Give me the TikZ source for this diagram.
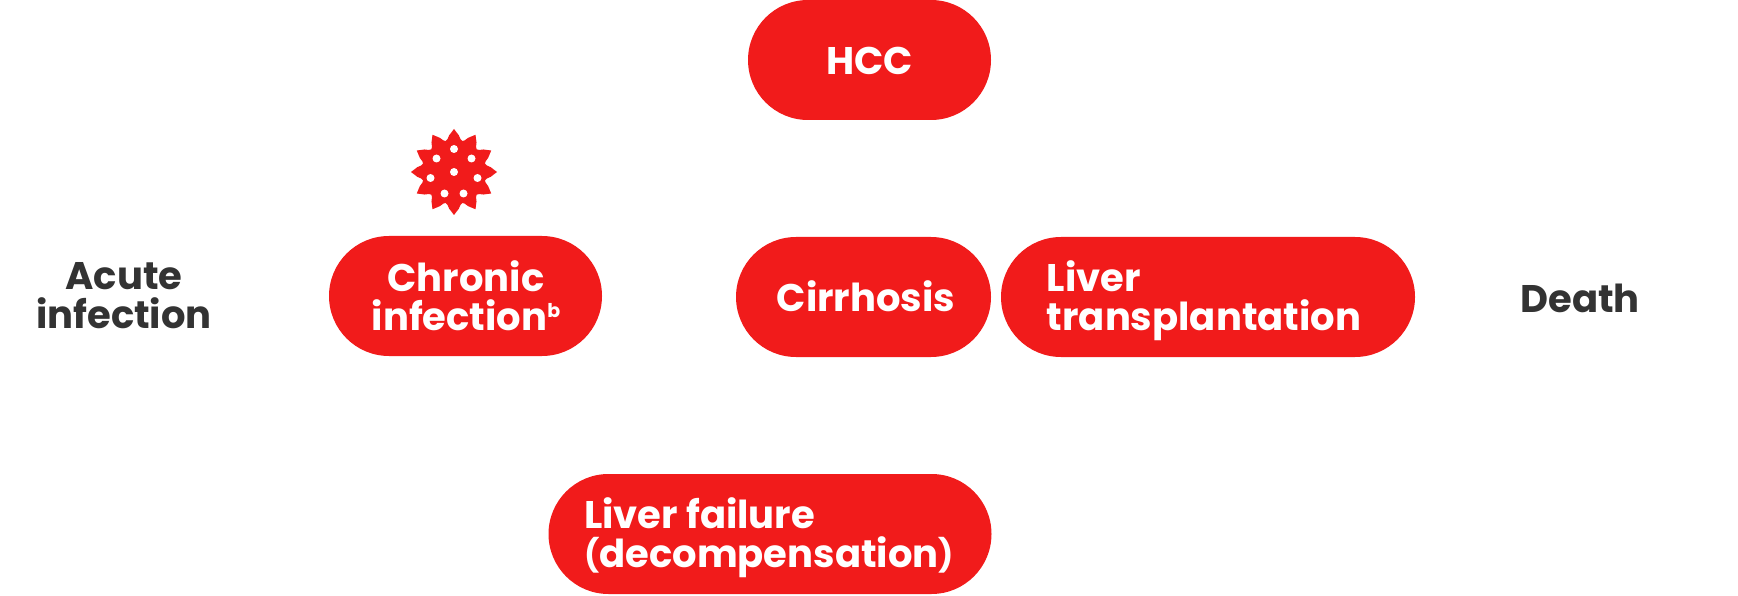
\documentclass[tikz,border=0pt]{standalone}
\usepackage{fontspec}
\setmainfont{Poppins}[BoldFont={Poppins Bold},UprightFont={Poppins SemiBold}]
\usetikzlibrary{shapes.misc}
\definecolor{pillred}{HTML}{F11B1B}
\definecolor{darktext}{HTML}{333333}
\newcommand\smallparen[1]{\raisebox{1.5pt}{\fontsize{32}{32}\selectfont #1}}
\newcommand\supb{\raisebox{13pt}{\fontsize{19}{19}\selectfont b}}
\tikzset{x=1pt,y=-1pt,
 pill/.style={rounded rectangle,rounded rectangle arc length=180,fill=pillred,minimum height=120pt,inner sep=0pt},
 pilltext/.style={text=white,inner sep=0pt,align=left,font=\fontsize{38.5}{39}\selectfont\bfseries},
 plain/.style={text=darktext,inner sep=0pt,align=center,font=\fontsize{38.5}{39}\selectfont\bfseries}}
\begin{document}
\begin{tikzpicture}
\useasboundingbox (0,0) rectangle (1738,596);
\node[pill,minimum width=243pt] (hcc) at (869.5,60) {};
\node[pilltext] (hcct) at (869.5,61) {HCC};
\node[pill,minimum width=273pt] (chronic) at (465.5,296) {};
\node[pilltext,align=center] (chronict) at (466,296) {Chronic\\infection\supb};
\node[pill,minimum width=255pt] (cirrhosis) at (863.5,297) {};
\node[pilltext] (cirrhosist) at (866,296) {Cirrhosis};
\node[pill,minimum width=414pt] (transplant) at (1208,297) {};
\node[pilltext] (transplantt) at (1204,301) {Liver\\transplantation};
\node[pill,minimum width=443pt] (failure) at (770,534) {};
\node[pilltext] (failuret) at (769,538) {Liver failure\\\smallparen{(}decompensation\smallparen{)}};
\node[plain] (acute) at (124,296) {Acute\\infection};
\node[plain] (death) at (1580,298.5) {Death};
% virus icon
\begin{scope}[shift={(454,172)}]
 \fill[pillred] (90:43)
 \foreach \a in {1,...,12}{ -- ({90+30*\a-22.5}:37) .. controls ({90+30*\a-15}:30.5) .. ({90+30*\a-7.5}:37) -- ({90+30*\a}:43)} -- cycle;
 \foreach \p in {(0,-23),(-17.5,-13.5),(17.5,-13.5),(-23.5,6),(23.5,6),(-9.5,21.5),(9.5,21.5),(0,0)}
  \fill[white] \p circle (4pt);
\end{scope}
\end{tikzpicture}
\end{document}
